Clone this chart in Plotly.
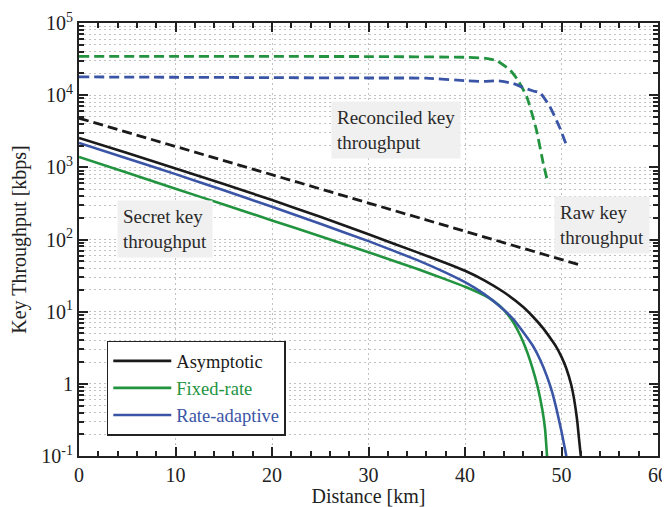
import plotly.graph_objects as go

# ---------------- data ----------------
asym_km = [0, 5, 10, 15, 20, 25, 30, 35, 38, 40, 42, 44, 46, 47, 48, 49, 49.5, 50, 50.5, 51, 51.25, 51.5, 51.65, 51.8, 52.0]
asym_val = [2553, 1583, 964, 588, 352, 206, 118, 66.8, 47.3, 36.9, 27.2, 18.7, 11.7, 8.64, 6.10, 4.01, 3.18, 2.36, 1.63, 0.978, 0.676, 0.416, 0.29, 0.181, 0.1]

fixed_km = [0, 5, 10, 15, 20, 25, 30, 35, 38, 40, 42, 43, 44, 45, 45.5, 46, 46.5, 47, 47.5, 48, 48.3, 48.5]
fixed_val = [1393, 839, 506, 305, 184, 111, 66.7, 39.3, 28.0, 22.1, 16.8, 13.9, 10.7, 7.14, 5.40, 3.89, 2.62, 1.64, 0.94, 0.449, 0.234, 0.1]

adapt_km = [0, 5, 10, 15, 20, 25, 30, 35, 38, 40, 42, 43.6, 45, 45.7, 47, 47.8, 48.5, 49, 49.5, 50, 50.5]
adapt_val = [2178, 1327, 805, 482, 284, 165, 95, 52.2, 34.8, 25.6, 17.5, 11.9, 7.9, 6.0, 3.42, 2.14, 1.26, 0.794, 0.436, 0.218, 0.1]

raw_km = [0, 10, 20, 30, 40, 52]
raw_val = [4800, 1955, 791, 320, 129, 44]

rec_fixed_km = [0, 10, 20, 30, 40, 42, 43.3, 44.7, 45.5, 46.4, 47.4, 48.1, 48.6]
rec_fixed_val = [34500, 34500, 34400, 34300, 33500, 32500, 30000, 22000, 16000, 9500, 3300, 1150, 600]

rec_adapt_km = [0, 10, 20, 30, 36, 40, 42, 43.5, 45, 46, 47, 47.8, 48.8, 49.8, 50.5]
rec_adapt_val = [17900, 17700, 17500, 17300, 17200, 15900, 15500, 15800, 14500, 12800, 11500, 10700, 6900, 3600, 2050]

y_tickvals = [0.1, 1, 10, 100, 1000, 10000, 100000]
y_ticktext = ["10<sup>-1</sup>", "1", "10<sup>1</sup>", "10<sup>2</sup>", "10<sup>3</sup>", "10<sup>4</sup>", "10<sup>5</sup>"]
x_tickvals = [0, 10, 20, 30, 40, 50, 60]

BLACK = "#1a1a1a"
GREEN = "#22933f"
BLUE = "#3a55a6"
FONT = "Liberation Serif"
GRID = "#c2c2c2"
GRIDDASH = "2px,3px"
DASH = "10px,5px"

y_minor = [m * 10 ** e for e in range(-1, 5) for m in range(2, 10)]

fig = go.Figure()

fig.add_trace(go.Scatter(x=raw_km, y=raw_val, mode="lines", showlegend=False,
                         line=dict(color=BLACK, width=2.8, dash=DASH)))
fig.add_trace(go.Scatter(x=rec_fixed_km, y=rec_fixed_val, mode="lines", showlegend=False,
                         line=dict(color=GREEN, width=2.8, dash=DASH, shape="spline", smoothing=0.5)))
fig.add_trace(go.Scatter(x=rec_adapt_km, y=rec_adapt_val, mode="lines", showlegend=False,
                         line=dict(color=BLUE, width=2.8, dash=DASH, shape="spline", smoothing=0.5)))

fig.add_trace(go.Scatter(x=asym_km, y=asym_val, mode="lines",
                         name='<span style="color:#1a1a1a">Asymptotic</span>',
                         line=dict(color=BLACK, width=2.6, shape="spline", smoothing=0.4)))
fig.add_trace(go.Scatter(x=fixed_km, y=fixed_val, mode="lines",
                         name='<span style="color:#22933f">Fixed-rate</span>',
                         line=dict(color=GREEN, width=2.6, shape="spline", smoothing=0.4)))
fig.add_trace(go.Scatter(x=adapt_km, y=adapt_val, mode="lines",
                         name='<span style="color:#3a55a6">Rate-adaptive</span>',
                         line=dict(color=BLUE, width=2.6, shape="spline", smoothing=0.4)))

ann_style = dict(showarrow=False, xref="x", yref="y", bgcolor="#f0f0f0",
                 font=dict(family=FONT, size=19, color="#2a2a2a"), align="left",
                 borderpad=5)
fig.add_annotation(x=32.9, y=3.52, text="Reconciled key<br>throughput", **ann_style)
fig.add_annotation(x=8.9, y=2.147, text="Secret key<br>throughput", **ann_style)
fig.add_annotation(x=54.2, y=2.202, text="Raw key<br>throughput", **ann_style)

# the page body has an 8px margin, so the figure is 8px smaller and margins shifted
fig.update_layout(
    width=662, height=499,
    margin=dict(l=71, r=12, t=15, b=51),
    paper_bgcolor="white", plot_bgcolor="white",
    font=dict(family=FONT, size=20, color="#222222"),
    legend=dict(x=0.048, y=0.266, xanchor="left", yanchor="top",
                bordercolor="#222222", borderwidth=1.5, bgcolor="white",
                font=dict(family=FONT, size=18.5), tracegroupgap=0,
                itemwidth=58),
)

fig.update_xaxes(
    range=[0, 60], tickvals=x_tickvals, ticks="inside", ticklen=9, tickwidth=1.5,
    tickcolor="#222222", showline=True, linecolor="#222222", linewidth=2, mirror="ticks",
    showgrid=True, gridcolor=GRID, griddash=GRIDDASH, gridwidth=1, zeroline=False,
    minor=dict(dtick=2, ticks="inside", ticklen=5, tickcolor="#222222", showgrid=False),
    title=dict(text="Distance [km]", font=dict(family=FONT, size=20), standoff=2),
    tickfont=dict(family=FONT, size=20), automargin=False,
)
fig.update_yaxes(
    type="log", range=[-1, 5], tickvals=y_tickvals, ticktext=y_ticktext,
    ticks="inside", ticklen=9, tickwidth=1.5, tickcolor="#222222",
    showline=True, linecolor="#222222", linewidth=2, mirror="ticks",
    showgrid=True, gridcolor=GRID, griddash=GRIDDASH, gridwidth=1, zeroline=False,
    minor=dict(tickvals=y_minor, ticks="inside", ticklen=5, tickcolor="#222222",
               showgrid=True, gridcolor=GRID, griddash=GRIDDASH, gridwidth=1),
    title=dict(text="Key Throughput [kbps]", font=dict(family=FONT, size=20), standoff=11),
    tickfont=dict(family=FONT, size=20), automargin=False,
)

fig.write_html("out.html")
